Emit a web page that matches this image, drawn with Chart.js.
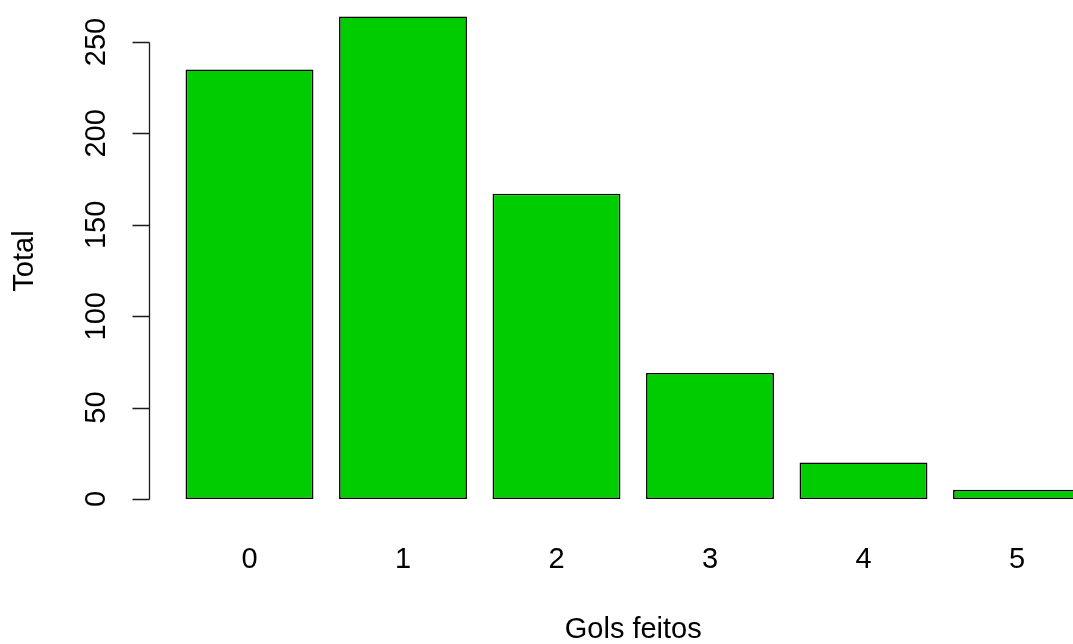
<!DOCTYPE html>
<html>
<head>
<meta charset="utf-8">
<script src="https://cdn.jsdelivr.net/npm/chart.js@4/dist/chart.umd.min.js"></script>
<style>
  html, body { margin: 0; padding: 0; background: #fff; overflow: hidden; width: 1073px; height: 644px; }
  canvas { display: block; }
</style>
</head>
<body>
<canvas id="c" width="1100" height="644" style="width:1100px;height:644px"></canvas>
<script>
// Goals scored per match: number of matches for each goal count
const categories = ['0', '1', '2', '3', '4', '5'];
const totals = [235, 264, 167, 69, 20, 5];
const yTicks = [0, 50, 100, 150, 200, 250];
const xTitle = 'Gols feitos';
const yTitle = 'Total';

const FONT = '"Liberation Sans", Arial, Helvetica, sans-serif';
const FONT_SIZE = 29;

// Base-graphics style y axis: line spans only the first to last tick,
// rotated tick labels, rotated axis title.
const baseYAxis = {
  id: 'baseYAxis',
  afterDraw(chart) {
    const { ctx, chartArea, scales: { y } } = chart;
    const band = (chartArea.right - chartArea.left) / categories.length;
    const axisX = Math.floor(chartArea.left - 0.15 * band) + 0.5;
    const yFirst = Math.round(y.getPixelForValue(yTicks[0])) + 0.5;
    const yLast = Math.round(y.getPixelForValue(yTicks[yTicks.length - 1])) + 0.5;

    ctx.save();
    ctx.strokeStyle = '#1a1a1a';
    ctx.lineWidth = 1.3;
    ctx.beginPath();
    ctx.moveTo(axisX, yFirst);
    ctx.lineTo(axisX, yLast);
    yTicks.forEach(v => {
      const py = Math.round(y.getPixelForValue(v)) + 0.5;
      ctx.moveTo(axisX - 17, py);
      ctx.lineTo(axisX, py);
    });
    ctx.stroke();

    ctx.fillStyle = '#000';
    ctx.font = FONT_SIZE + 'px ' + FONT;
    ctx.textAlign = 'center';
    ctx.textBaseline = 'middle';
    yTicks.forEach(v => {
      const py = y.getPixelForValue(v);
      ctx.save();
      ctx.translate(axisX - 52.5, py);
      ctx.rotate(-Math.PI / 2);
      ctx.fillText(String(v), 0, 0);
      ctx.restore();
    });

    ctx.save();
    ctx.translate(axisX - 124.5, 261);
    ctx.rotate(-Math.PI / 2);
    ctx.fillText(yTitle, 0, 0);
    ctx.restore();
    ctx.restore();
  }
};

new Chart(document.getElementById('c'), {
  type: 'bar',
  data: {
    labels: categories,
    datasets: [{
      data: totals,
      backgroundColor: '#00CD00',
      borderColor: '#000000',
      borderWidth: 1.6,
      borderSkipped: false,
      categoryPercentage: 1,
      barPercentage: 1 / 1.2
    }]
  },
  options: {
    responsive: false,
    animation: false,
    devicePixelRatio: 1,
    layout: { padding: { left: 172.75, right: 6.25, top: 0, bottom: 0 } },
    plugins: { legend: { display: false }, tooltip: { enabled: false } },
    scales: {
      x: {
        type: 'category',
        offset: true,
        grid: { display: false, drawTicks: false },
        border: { display: false },
        ticks: {
          color: '#000',
          font: { family: FONT, size: FONT_SIZE, lineHeight: 1 },
          padding: 46,
          maxRotation: 0,
          autoSkip: false
        },
        title: {
          display: true,
          text: xTitle,
          color: '#000',
          font: { family: FONT, size: FONT_SIZE, lineHeight: 1 },
          padding: { top: 0, bottom: 0 }
        },
        afterFit(scale) { scale.height = 145; }
      },
      y: {
        display: false,
        min: 0,
        max: 273
      }
    }
  },
  plugins: [baseYAxis]
});
</script>
</body>
</html>
